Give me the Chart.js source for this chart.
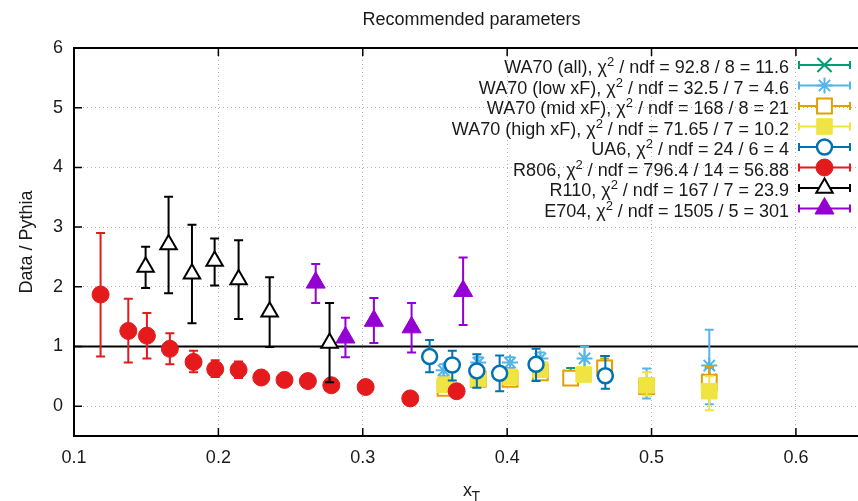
<!DOCTYPE html>
<html>
<head>
<meta charset="utf-8">
<script src="https://cdn.jsdelivr.net/npm/chart.js@4.4.0/dist/chart.umd.min.js"></script>
<style>
  html, body { margin: 0; padding: 0; background: #ffffff; }
</style>
</head>
<body>
<canvas id="chart" width="858" height="501"></canvas>
<script>
// legend: series names and fit results
const seriesNames = ['WA70 (all)', 'WA70 (low xF)', 'WA70 (mid xF)', 'WA70 (high xF)', 'UA6', 'R806', 'R110', 'E704'];
const chi2Values = ['92.8', '32.5', '168', '71.65', '24', '796.4', '167', '1505'];
const ndfValues = ['8', '7', '8', '7', '6', '14', '7', '5'];
const chi2PerNdf = ['11.6', '4.6', '21', '10.2', '4', '56.88', '23.9', '301'];

const xTicks = [0.1, 0.2, 0.3, 0.4, 0.5, 0.6];
const yTicks = [0, 1, 2, 3, 4, 5, 6];

// WA70 (all)
const wa70AllX = [0.357, 0.380, 0.402, 0.423, 0.444, 0.4675, 0.4966, 0.540];
const wa70AllY = [0.33, 0.47, 0.46, 0.57, 0.49, 0.65, 0.34, 0.42];
const wa70AllLo = [0.25, 0.40, 0.39, 0.49, 0.40, 0.48, 0.27, 0.20];
const wa70AllHi = [0.41, 0.54, 0.53, 0.65, 0.64, 0.84, 0.41, 0.64];

// WA70 (low xF)
const wa70LowX = [0.356, 0.380, 0.402, 0.423, 0.4536, 0.4966, 0.540];
const wa70LowY = [0.60, 0.73, 0.73, 0.80, 0.80, 0.37, 0.68];
const wa70LowLo = [0.50, 0.64, 0.64, 0.70, 0.62, 0.13, 0.03];
const wa70LowHi = [0.70, 0.82, 0.82, 0.90, 0.99, 0.63, 1.28];

// WA70 (mid xF)
const wa70MidX = [0.357, 0.380, 0.402, 0.423, 0.444, 0.4675, 0.4966, 0.540];
const wa70MidY = [0.30, 0.45, 0.45, 0.56, 0.47, 0.64, 0.33, 0.40];
const wa70MidLo = [0.24, 0.39, 0.39, 0.49, 0.40, 0.48, 0.27, 0.16];
const wa70MidHi = [0.36, 0.51, 0.51, 0.63, 0.56, 0.80, 0.39, 0.66];

// WA70 (high xF)
const wa70HighX = [0.357, 0.380, 0.402, 0.423, 0.453, 0.4966, 0.540];
const wa70HighY = [0.36, 0.46, 0.49, 0.61, 0.53, 0.35, 0.25];
const wa70HighLo = [0.28, 0.38, 0.41, 0.52, 0.44, 0.18, -0.07];
const wa70HighHi = [0.44, 0.54, 0.57, 0.70, 0.62, 0.57, 0.50];

// UA6
const ua6X = [0.3463, 0.362, 0.379, 0.3948, 0.420, 0.468];
const ua6Y = [0.83, 0.69, 0.59, 0.55, 0.70, 0.51];
const ua6Lo = [0.57, 0.43, 0.31, 0.25, 0.42, 0.29];
const ua6Hi = [1.11, 0.93, 0.87, 0.85, 0.96, 0.84];

// R806
const r806X = [0.1184, 0.1376, 0.1505, 0.1664, 0.1828, 0.1978, 0.214, 0.2297, 0.2458, 0.262, 0.2782, 0.302, 0.3329, 0.365];
const r806Y = [1.87, 1.26, 1.18, 0.96, 0.74, 0.62, 0.61, 0.48, 0.44, 0.42, 0.35, 0.32, 0.13, 0.25];
const r806Lo = [0.83, 0.73, 0.80, 0.70, 0.57, 0.49, 0.47, 0.44, 0.40, 0.38, 0.32, 0.29, 0.11, 0.23];
const r806Hi = [2.90, 1.80, 1.56, 1.22, 0.93, 0.77, 0.75, 0.52, 0.48, 0.46, 0.38, 0.35, 0.15, 0.27];

// R110
const r110X = [0.1496, 0.1655, 0.1817, 0.1974, 0.214, 0.2355, 0.277];
const r110Y = [2.33, 2.71, 2.22, 2.43, 2.12, 1.58, 1.06];
const r110Lo = [1.98, 1.89, 1.39, 2.02, 1.46, 0.99, 0.40];
const r110Hi = [2.67, 3.51, 3.04, 2.81, 2.78, 2.16, 1.73];

// E704
const e704X = [0.2674, 0.288, 0.3077, 0.3338, 0.3695];
const e704Y = [2.07, 1.15, 1.43, 1.32, 1.93];
const e704Lo = [1.73, 0.82, 1.06, 0.90, 1.36];
const e704Hi = [2.38, 1.48, 1.81, 1.73, 2.49];

const seriesX = [wa70AllX, wa70LowX, wa70MidX, wa70HighX, ua6X, r806X, r110X, e704X];
const seriesY = [wa70AllY, wa70LowY, wa70MidY, wa70HighY, ua6Y, r806Y, r110Y, e704Y];
const seriesLo = [wa70AllLo, wa70LowLo, wa70MidLo, wa70HighLo, ua6Lo, r806Lo, r110Lo, e704Lo];
const seriesHi = [wa70AllHi, wa70LowHi, wa70MidHi, wa70HighHi, ua6Hi, r806Hi, r110Hi, e704Hi];

// marker styles, gnuplot-like
const styles = [
    { color: '#009e73', fill: 'rgba(0,0,0,0)', shape: 'crossRot', radius: 10, width: 2 },
    { color: '#56b4e9', fill: 'rgba(0,0,0,0)', shape: 'star', radius: 8, width: 2 },
    { color: '#e69f00', fill: '#ffffff', shape: 'rect', radius: 10.5, width: 2 },
    { color: '#f0e442', fill: '#f0e442', shape: 'rect', radius: 11, width: 1 },
    { color: '#0072b2', fill: '#ffffff', shape: 'circle', radius: 7.5, width: 2.5 },
    { color: '#e41a1c', fill: '#e41a1c', shape: 'circle', radius: 8.5, width: 1 },
    { color: '#000000', fill: '#ffffff', shape: 'triangle', radius: 9.5, width: 2 },
    { color: '#9400d3', fill: '#9400d3', shape: 'triangle', radius: 11, width: 1 }
];

const FONT = "'Liberation Sans', Arial, sans-serif";

const datasets = seriesNames.map(function(name, i) {
    const st = styles[i];
    return {
        label: name,
        data: seriesX[i].map(function(x, j) { return { x: x, y: seriesY[i][j] }; }),
        showLine: false,
        pointStyle: st.shape,
        pointRadius: st.radius,
        pointBorderWidth: st.width,
        pointBorderColor: st.color,
        pointBackgroundColor: st.fill,
        borderColor: st.color,
        backgroundColor: st.fill,
        order: seriesNames.length - i
    };
});

function drawMarker(ctx, st, x, y) {
    ctx.save();
    ctx.strokeStyle = st.color;
    ctx.fillStyle = st.fill;
    ctx.lineWidth = st.width;
    Chart.helpers.drawPoint(ctx, { pointStyle: st.shape, radius: st.radius, rotation: 0, borderWidth: st.width }, x, y);
    ctx.restore();
}

const gnuplotLook = {
    id: 'gnuplotLook',
    afterLayout(chart) {
        // plot runs off the right edge of the picture, like the original
        const area = chart.chartArea;
        const xs = chart.scales.x;
        area.right = chart.width;
        area.width = area.right - area.left;
        xs.right = chart.width;
        xs.width = xs.right - xs.left;
        xs.configure();
        xs._gridLineItems = null;
        xs._labelItems = null;
        chart.scales.y._gridLineItems = null;
    },
    beforeDatasetsDraw(chart) {
        const ctx = chart.ctx;
        const area = chart.chartArea;
        const py = chart.scales.y.getPixelForValue(1);
        ctx.save();
        ctx.strokeStyle = '#000000';
        ctx.lineWidth = 2;
        ctx.beginPath();
        ctx.moveTo(area.left, py);
        ctx.lineTo(area.right, py);
        ctx.stroke();
        ctx.restore();
    },
    beforeDatasetDraw(chart, args) {
        // error bars of this series, drawn under its markers
        const i = args.index;
        const ctx = chart.ctx;
        const xs = chart.scales.x, ys = chart.scales.y;
        ctx.save();
        ctx.strokeStyle = styles[i].color;
        ctx.lineWidth = 2;
        seriesX[i].forEach(function(x, j) {
            const px = xs.getPixelForValue(x);
            const lo = ys.getPixelForValue(seriesLo[i][j]);
            const hi = ys.getPixelForValue(seriesHi[i][j]);
            ctx.beginPath();
            ctx.moveTo(px, lo); ctx.lineTo(px, hi);
            ctx.moveTo(px - 4.5, lo); ctx.lineTo(px + 4.5, lo);
            ctx.moveTo(px - 4.5, hi); ctx.lineTo(px + 4.5, hi);
            ctx.stroke();
        });
        ctx.restore();
    },
    afterDraw(chart) {
        const ctx = chart.ctx;
        const area = chart.chartArea;
        const xs = chart.scales.x, ys = chart.scales.y;
        ctx.save();
        // top border
        ctx.strokeStyle = '#000000';
        ctx.lineWidth = 2;
        ctx.beginPath();
        ctx.moveTo(area.left - 1, area.top);
        ctx.lineTo(area.right, area.top);
        ctx.stroke();
        // inward ticks
        ctx.lineWidth = 1.5;
        ctx.beginPath();
        yTicks.forEach(function(v) {
            const py = ys.getPixelForValue(v);
            ctx.moveTo(area.left, py); ctx.lineTo(area.left + 8, py);
        });
        xTicks.forEach(function(v) {
            const px = xs.getPixelForValue(v);
            ctx.moveTo(px, area.bottom); ctx.lineTo(px, area.bottom - 8);
            ctx.moveTo(px, area.top); ctx.lineTo(px, area.top + 8);
        });
        ctx.stroke();

        // title
        ctx.fillStyle = '#1a1a1a';
        ctx.font = '18px ' + FONT;
        ctx.textAlign = 'center';
        ctx.textBaseline = 'alphabetic';
        ctx.fillText('Recommended parameters', 471.5, 25);

        // x axis title with subscript
        ctx.textAlign = 'left';
        ctx.fillText('x', 463, 496);
        ctx.font = '14px ' + FONT;
        ctx.fillText('T', 471.5, 500.5);

        // legend
        const rowTop = 65, rowStep = 20.5, textRight = 789;
        seriesNames.forEach(function(name, i) {
            const cy = rowTop + i * rowStep;
            const part1 = name + ', \u03c7';
            const part2 = ' / ndf = ' + chi2Values[i] + ' / ' + ndfValues[i] + ' = ' + chi2PerNdf[i];
            ctx.font = '18px ' + FONT;
            const w1 = ctx.measureText(part1).width;
            const w2 = ctx.measureText(part2).width;
            ctx.font = '13px ' + FONT;
            const ws = ctx.measureText('2').width;
            let x0 = textRight - w1 - ws - w2;
            const base = cy + 8;
            ctx.fillStyle = '#1a1a1a';
            ctx.font = '18px ' + FONT;
            ctx.fillText(part1, x0, base);
            ctx.font = '13px ' + FONT;
            ctx.fillText('2', x0 + w1, base - 7);
            ctx.font = '18px ' + FONT;
            ctx.fillText(part2, x0 + w1 + ws, base);

            const st = styles[i];
            ctx.strokeStyle = st.color;
            ctx.lineWidth = 2;
            ctx.beginPath();
            ctx.moveTo(799, cy); ctx.lineTo(850, cy);
            ctx.moveTo(799, cy - 4); ctx.lineTo(799, cy + 4);
            ctx.moveTo(850, cy - 4); ctx.lineTo(850, cy + 4);
            ctx.stroke();
            drawMarker(ctx, st, 824.5, cy);
        });
        ctx.restore();
    }
};

new Chart(document.getElementById('chart'), {
    type: 'scatter',
    data: { datasets: datasets },
    options: {
        responsive: false,
        animation: false,
        devicePixelRatio: 1,
        events: [],
        layout: { padding: { top: 48, right: 0, bottom: 0, left: 0 } },
        plugins: {
            legend: { display: false },
            tooltip: { enabled: false },
            title: { display: false }
        },
        scales: {
            x: {
                type: 'linear',
                min: 0.1,
                max: 0.643,
                afterBuildTicks: function(scale) { scale.ticks = xTicks.map(function(v) { return { value: v }; }); },
                afterFit: function(scale) { scale.height = 65; },
                ticks: {
                    color: '#1a1a1a',
                    font: { family: FONT, size: 18 },
                    padding: 11,
                    maxRotation: 0,
                    callback: function(v) { return v.toFixed(1); }
                },
                grid: { color: '#b4b4b4', lineWidth: 1, drawTicks: false },
                border: { display: true, color: '#000000', width: 2, dash: [1, 3] }
            },
            y: {
                type: 'linear',
                min: -0.5,
                max: 6,
                afterBuildTicks: function(scale) { scale.ticks = yTicks.map(function(v) { return { value: v }; }); },
                afterFit: function(scale) { scale.width = 74; },
                ticks: {
                    color: '#1a1a1a',
                    font: { family: FONT, size: 18 },
                    padding: 11,
                    callback: function(v) { return String(v); }
                },
                grid: { color: '#b4b4b4', lineWidth: 1, drawTicks: false },
                border: { display: true, color: '#000000', width: 2, dash: [1, 3] },
                title: {
                    display: true,
                    text: 'Data / Pythia',
                    color: '#1a1a1a',
                    font: { family: FONT, size: 18 },
                    padding: { top: 16, bottom: 0 }
                }
            }
        }
    },
    plugins: [gnuplotLook]
});
</script>
</body>
</html>
